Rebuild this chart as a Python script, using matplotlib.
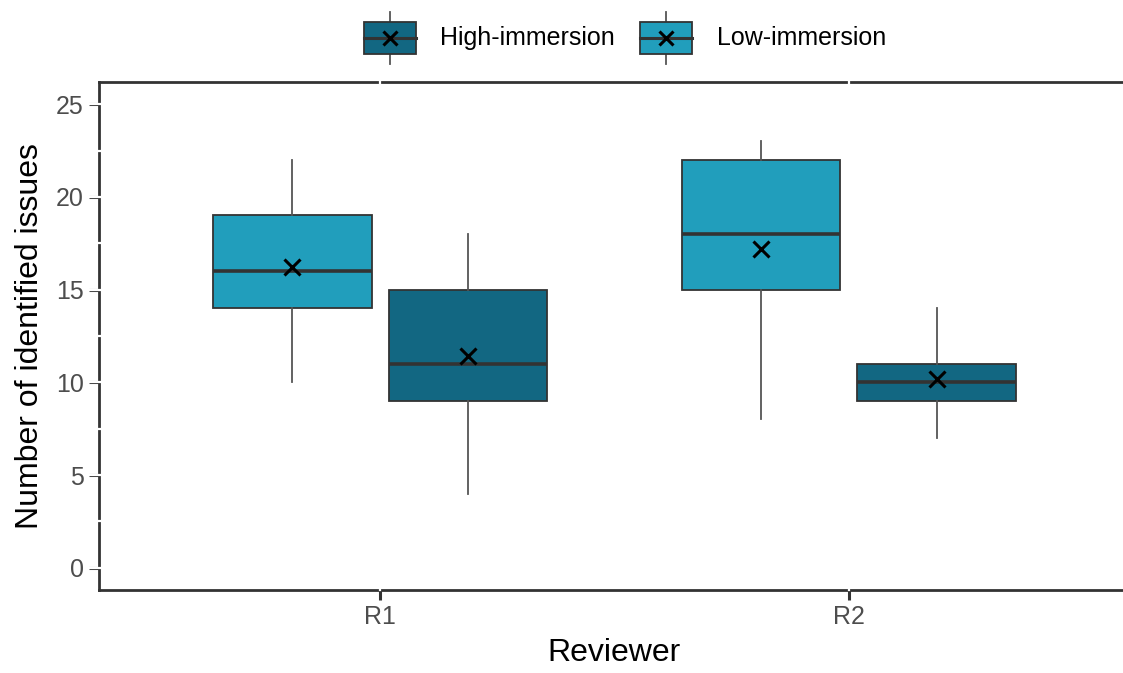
import numpy as np
import matplotlib
matplotlib.use("Agg")
import matplotlib.pyplot as plt
from matplotlib.patches import Rectangle
from matplotlib.lines import Line2D
from matplotlib.legend_handler import HandlerBase

plt.rcParams['font.family'] = ['Liberation Sans', 'DejaVu Sans']

reviewers = ['R1', 'R2']
groups = ['High-immersion', 'Low-immersion']
colors = {'High-immersion': '#126782', 'Low-immersion': '#219ebc'}

# box stats
low_whislo = [10, 8]
low_q1 = [14, 15]
low_med = [16, 18]
low_q3 = [19, 22]
low_whishi = [22, 23]
low_mean = [16.2, 17.2]

high_whislo = [4, 7]
high_q1 = [9, 9]
high_med = [11, 10]
high_q3 = [15, 11]
high_whishi = [18, 14]
high_mean = [11.4, 10.2]

yticks = [0, 5, 10, 15, 20, 25]

EDGE = '#333333'


def make_stats(whislo, q1, med, q3, whishi, mean):
    out = []
    for i in range(len(med)):
        out.append(dict(whislo=whislo[i], q1=q1[i], med=med[i], q3=q3[i],
                        whishi=whishi[i], mean=mean[i], fliers=[]))
    return out


class BoxHandler(HandlerBase):
    def create_artists(self, legend, orig_handle, xdescent, ydescent,
                       width, height, fontsize, trans):
        x0, y0 = -xdescent, -ydescent
        cx = x0 + width / 2
        cy = y0 + height / 2
        whisk = Line2D([cx, cx], [y0, y0 + height], color='#555555', lw=1.3)
        rect = Rectangle((x0, y0 + 0.19 * height), width, 0.62 * height,
                         facecolor=orig_handle.get_facecolor(), edgecolor=EDGE, lw=1.3)
        med = Line2D([x0, x0 + width], [cy, cy], color=EDGE, lw=2.2)
        mk = Line2D([cx], [cy], marker='x', color='black', markersize=10, mew=2.2, ls='none')
        arts = [whisk, rect, med, mk]
        for a in arts:
            a.set_transform(trans)
        return arts


fig = plt.figure(figsize=(11.23, 6.73), dpi=100)
ax = fig.add_axes([99 / 1123, 83 / 673, (1130 - 99) / 1123, (590 - 82) / 673])

x = np.arange(1, len(reviewers) + 1)
off = 0.1875
bw = 0.338

common = dict(widths=bw, patch_artist=True, showmeans=True, showcaps=False,
              showfliers=False, zorder=5,
              boxprops=dict(edgecolor=EDGE, linewidth=1.3),
              whiskerprops=dict(color='#555555', linewidth=1.3),
              medianprops=dict(color=EDGE, linewidth=2.6),
              meanprops=dict(marker='x', markeredgecolor='black', markersize=11,
                             markeredgewidth=2.2))

b1 = ax.bxp(make_stats(low_whislo, low_q1, low_med, low_q3, low_whishi, low_mean),
            positions=x - off, **common)
b2 = ax.bxp(make_stats(high_whislo, high_q1, high_med, high_q3, high_whishi, high_mean),
            positions=x + off, **common)
for p in b1['boxes']:
    p.set_facecolor(colors['Low-immersion'])
for p in b2['boxes']:
    p.set_facecolor(colors['High-immersion'])

ax.set_xlim(0.4, 2.6)
ax.set_ylim(-1.2, 26.2)
ax.set_xticks(x)
ax.set_xticklabels(reviewers)
ax.set_yticks(yticks)

for s in ['top', 'bottom', 'left']:
    ax.spines[s].set_color(EDGE)
    ax.spines[s].set_linewidth(2)
ax.spines['right'].set_visible(False)
ax.tick_params(axis='both', length=7, width=2.2, color=EDGE,
               labelsize=18, labelcolor='#4d4d4d', pad=4)

ax.set_xlabel('Reviewer', fontsize=23, labelpad=6)
ax.set_ylabel('Number of identified issues', fontsize=23, labelpad=8)

# white grid lines sitting over the panel border, as in the source
ytr = ax.get_yaxis_transform()
xtr = ax.get_xaxis_transform()
for yv in np.arange(-2.5, 27.5, 2.5):
    if -1.2 < yv < 26.2:
        ax.plot([-0.01, 1.0], [yv, yv], transform=ytr, color='white', lw=1.6,
                clip_on=False, zorder=2.6)
for xv in x:
    ax.plot([xv, xv], [0.0, 1.01], transform=xtr, color='white', lw=1.6,
            clip_on=False, zorder=2.6)
for s in ax.spines.values():
    s.set_zorder(2.5)

handles = [Rectangle((0, 0), 1, 1, facecolor=colors[g]) for g in groups]
fig.legend(handles, groups, loc='center', bbox_to_anchor=(625 / 1123, 1 - 38 / 673),
           ncol=2, frameon=False, fontsize=18, handler_map={Rectangle: BoxHandler()},
           handlelength=2.08, handleheight=2.8, handletextpad=1.0, columnspacing=1.0)

fig.savefig('out.png', dpi=100)
